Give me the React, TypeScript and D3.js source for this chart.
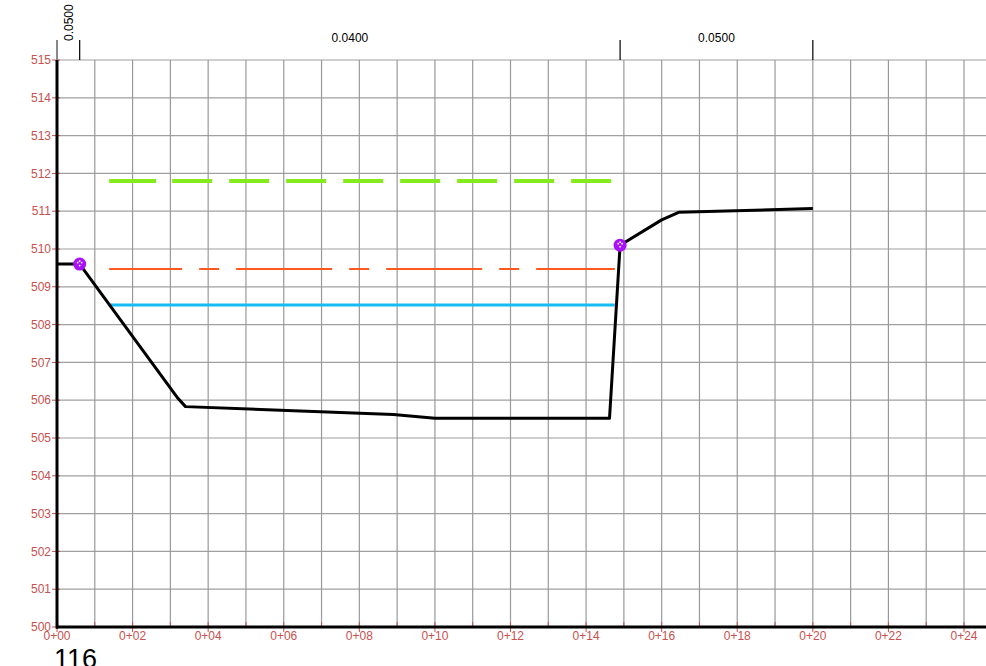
import React from "react";
import * as d3 from "d3";

const stations = [0, 0.6, 3.2, 3.4, 8.9, 10.0, 14.62, 14.9, 16.0, 16.45, 20.0];
const elevations = [509.6, 509.6, 506.05, 505.83, 505.62, 505.52, 505.52, 510.1, 510.77, 510.97, 511.07];
const markerStations = [0.6, 14.9];
const markerElevations = [509.6, 510.1];
const levelElevations = [511.8, 509.47, 508.52];
const levelColors = ["#84ec1c", "#ff5a1e", "#16bdf2"];
const levelStart = 1.38;
const levelEnd = 14.76;
const nBreaks = [0.6, 14.9, 20.0];
const nValues = ["0.0500", "0.0400", "0.0500"];
const yTicks = d3.range(500, 516, 1);
const xGrid = d3.range(1, 25, 1);
const xLabels = d3.range(0, 25, 2);
const sectionLabel = "116";

const W = 986;
const H = 666;
const red = "#c8504e";
const fmtSta = (v: number) => `0+${String(v).padStart(2, "0")}`;

export default function App() {
  const x = d3.scaleLinear().domain([0, 24]).range([57, 964]);
  const y = d3.scaleLinear().domain([500, 515]).range([627, 60]);
  const line = d3
    .line<number>()
    .x((_, i) => x(stations[i]))
    .y((d) => y(d));
  const greenDash = [47, 16, ...Array(12).fill([40, 17]).flat()].join(" ");
  const dashes = [greenDash, "96 17 20 17", null];
  const dashOffsets = [0, 23, 0];
  const widths = [4, 2, 3];
  return (
    <svg
      width={W}
      height={H}
      style={{ position: "absolute", left: 0, top: 0, background: "#fff", fontFamily: "'Liberation Sans', Arial, sans-serif" }}
    >
      {yTicks.map((t) => (
        <line key={"h" + t} x1={57} x2={W} y1={y(t)} y2={y(t)} stroke="#a0a0a0" strokeWidth={1.2} />
      ))}
      {xGrid.map((t) => (
        <line key={"v" + t} x1={x(t)} x2={x(t)} y1={y(515)} y2={y(500)} stroke="#999" strokeWidth={1.2} />
      ))}
      {yTicks.map((t) => (
        <g key={"yt" + t}>
          <line x1={52} x2={60} y1={y(t)} y2={y(t)} stroke={red} strokeWidth={1} />
          <text x={51} y={y(t)} dy="0.35em" textAnchor="end" fontSize={12} fill={red}>
            {t}
          </text>
        </g>
      ))}
      {d3.range(0, 25, 1).map((t) => (
        <line key={"xt" + t} x1={x(t)} x2={x(t)} y1={622} y2={t % 2 === 0 ? 632 : 627} stroke={red} strokeWidth={1} />
      ))}
      {xLabels.map((t) => (
        <text key={"xl" + t} x={x(t)} y={640} textAnchor="middle" fontSize={12} fill={red}>
          {fmtSta(t)}
        </text>
      ))}
      <line x1={57} x2={57} y1={40} y2={60} stroke="#888" strokeWidth={2} />
      <line x1={57} x2={57} y1={60} y2={628.5} stroke="#000" strokeWidth={3} />
      <line x1={56} x2={W} y1={627} y2={627} stroke="#000" strokeWidth={3} />
      {nBreaks.map((b) => (
        <line key={"nb" + b} x1={x(b)} x2={x(b)} y1={40} y2={60} stroke="#000" strokeWidth={1.2} />
      ))}
      <text transform={`translate(73,41) rotate(-90)`} fontSize={12} fill="#000">
        {nValues[0]}
      </text>
      {nValues.slice(1).map((v, i) => (
        <text key={"nv" + i} x={(x(nBreaks[i]) + x(nBreaks[i + 1])) / 2} y={42} textAnchor="middle" fontSize={12} fill="#000">
          {v}
        </text>
      ))}
      {levelElevations.map((e, i) => (
        <line
          key={"wl" + i}
          x1={x(levelStart)}
          x2={x(levelEnd)}
          y1={y(e)}
          y2={y(e)}
          stroke={levelColors[i]}
          strokeWidth={widths[i]}
          strokeDasharray={dashes[i] ?? undefined}
          strokeDashoffset={dashOffsets[i]}
        />
      ))}
      <path d={line(elevations) ?? ""} fill="none" stroke="#000" strokeWidth={3} strokeLinejoin="round" />
      {markerStations.map((s, i) => (
        <g key={"m" + i} transform={`translate(${x(s)},${y(markerElevations[i])})`}>
          <circle r={6.5} fill="#aa10f8" />
          <circle cx={-2} cy={-1.5} r={0.9} fill="#fff" />
          <circle cx={2} cy={-1.5} r={0.9} fill="#fff" />
          <circle cx={0} cy={-3} r={0.9} fill="#fff" />
          <circle cx={0} cy={1.5} r={0.9} fill="#fff" />
        </g>
      ))}
      <text x={54} y={668} fontSize={27} fill="#000">
        {sectionLabel}
      </text>
    </svg>
  );
}
